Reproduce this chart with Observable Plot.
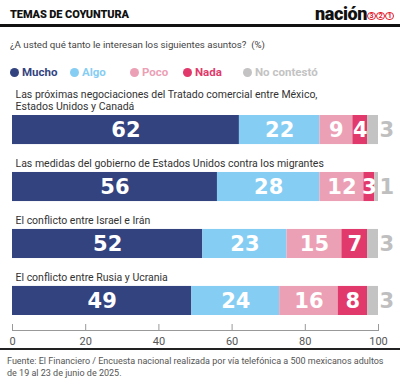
<!DOCTYPE html>
<html><head><meta charset="utf-8">
<script src="https://cdn.jsdelivr.net/npm/d3@7"></script>
<script src="https://cdn.jsdelivr.net/npm/@observablehq/plot@0.6"></script>
<style>
body{margin:0;background:#fff;font-family:Roboto,"Noto Sans",sans-serif;width:400px;height:382px;position:relative;overflow:hidden}
.abs{position:absolute}
#title{left:10px;top:8px;font-size:11px;font-weight:900;color:#111;letter-spacing:-0.1px}
#logo{left:315px;top:3px;font-size:18px;font-weight:900;color:#111;letter-spacing:-0.4px;display:flex;align-items:center}
#logo span{display:inline-block;width:6.8px;height:6.8px;border:1.3px solid #e2202c;border-radius:50%;color:#e2202c;font-size:7px;line-height:7px;text-align:center;font-weight:700;margin-left:0.3px;margin-top:5px;letter-spacing:0}
#rule1{left:0;top:24px;width:400px;height:3px;background:#111}
#sub{left:10px;top:39px;font-size:9.7px;color:#444}
#legend{left:10px;top:65px;display:flex;font-size:11.5px;font-weight:700}
#legend .it{display:flex;align-items:center}
#legend .dot{width:9px;height:9px;border-radius:50%;margin-right:3px}
#chart{left:0;top:84px}
#rule2{left:0;top:348px;width:400px;height:2px;background:#222}
#foot{left:7px;top:355px;font-size:9px;color:#555;line-height:12px;white-space:nowrap}
</style></head>
<body>
<div id="title" class="abs">TEMAS DE COYUNTURA</div>
<div id="logo" class="abs">nación<span>3</span><span>2</span><span>1</span></div>
<div id="rule1" class="abs"></div>
<div id="sub" class="abs">¿A usted qué tanto le interesan los siguientes asuntos?&nbsp; (%)</div>
<div id="legend" class="abs"></div>
<div id="chart" class="abs"></div>
<div id="rule2" class="abs"></div>
<div id="foot" class="abs">Fuente: El Financiero / Encuesta nacional realizada por vía telefónica a 500 mexicanos adultos<br>de 19 al 23 de junio de 2025.</div>
<script>
const categories = [
  "Las próximas negociaciones del Tratado comercial entre México,\nEstados Unidos y Canadá",
  "Las medidas del gobierno de Estados Unidos contra los migrantes",
  "El conflicto entre Israel e Irán",
  "El conflicto entre Rusia y Ucrania"
];
const series = ["Mucho", "Algo", "Poco", "Nada", "No contestó"];
const mucho = [62, 56, 52, 49];
const algo = [22, 28, 23, 24];
const poco = [9, 12, 15, 16];
const nada = [4, 3, 7, 8];
const noContesto = [3, 1, 3, 3];
const colors = ["#33437f", "#86cdf3", "#eca0b5", "#e1396b", "#c3c3c3"];
const xTicks = [0, 20, 40, 60, 80, 100];

const valueLists = [mucho, algo, poco, nada, noContesto];
const rows = [];
categories.forEach((c, i) => series.forEach((s, j) => rows.push({cat: c, series: s, value: valueLists[j][i]})));
const inside = rows.filter(d => d.series !== "No contestó");
const outside = categories.map((c, i) => ({cat: c, value: noContesto[i], total: d3.sum(valueLists, l => l[i])}));

const leg = document.getElementById("legend");
const legWidths = [60, 60, 53, 60, 80];
series.forEach((s, j) => {
  const it = document.createElement("div");
  it.className = "it";
  it.style.width = legWidths[j] + "px";
  it.innerHTML = `<div class="dot" style="background:${colors[j]}"></div><span style="color:${colors[j]}">${s}</span>`;
  leg.appendChild(it);
});

const H = 264, MB = 18;
const chart = Plot.plot({
  width: 400,
  height: H,
  marginLeft: 12,
  marginRight: 22,
  marginTop: 0,
  marginBottom: MB,
  style: {fontFamily: "Roboto, sans-serif", overflow: "visible"},
  x: {domain: [0, 100], axis: null},
  y: {domain: categories, range: [31, 231], paddingInner: 0.49, paddingOuter: 0, round: false, axis: null},
  color: {domain: series, range: colors},
  marks: [
    Plot.barX(rows, Plot.stackX({x: "value", y: "cat", fill: "series"})),
    Plot.text(inside, Plot.stackX({x: "value", y: "cat", text: d => String(d.value), fill: "white", fontSize: 21, fontWeight: 700, fontFamily: "DejaVu Sans"})),
    Plot.text(outside, {x: "total", y: "cat", text: d => String(d.value), fill: "#bfbfbf", fontSize: 21, fontWeight: 700, fontFamily: "DejaVu Sans", textAnchor: "start", dx: 1}),
    Plot.text(categories, {y: d => d, text: d => d, frameAnchor: "left", textAnchor: "start", lineAnchor: "bottom", dx: 3, dy: -20, fontSize: 10.5, fill: "#333", lineHeight: 1.15}),
    Plot.frame({anchor: "bottom", stroke: "#999"}),
    Plot.ruleX(xTicks, {x: d => d, insetTop: H - MB - 6, stroke: "#999"}),
    Plot.axisX({ticks: xTicks, tickSize: 0, tickPadding: 7, fontSize: 11, fill: "#555", label: null, tickFormat: d => String(d)})
  ]
});
document.getElementById("chart").appendChild(chart);
</script>
</body></html>
